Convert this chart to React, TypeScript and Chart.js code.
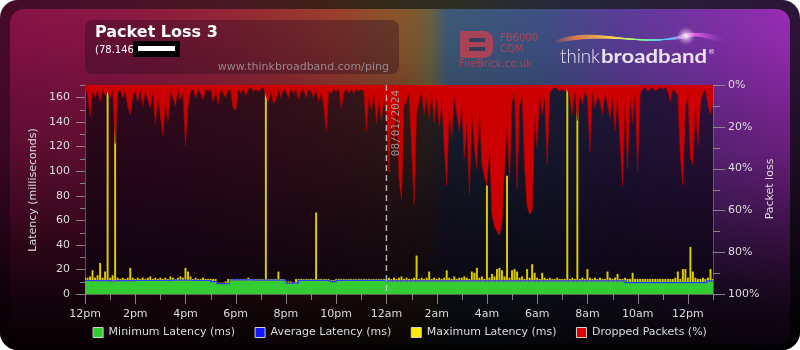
import React, { useEffect, useRef } from 'react';
import { Chart, registerables } from 'chart.js';

Chart.register(...registerables);

// ---- labels ----
const chartTitle = 'Packet Loss 3';
const subtitle = '(78.146';
const siteUrl = 'www.thinkbroadband.com/ping';
const dateLabel = '08/01/2024';
const midnightHour = 12;
const totalHours = 25;
const xTickLabels = ['12pm', '2pm', '4pm', '6pm', '8pm', '10pm', '12am', '2am', '4am', '6am', '8am', '10am', '12pm'];
const seriesNames = ['Minimum Latency (ms)', 'Average Latency (ms)', 'Maximum Latency (ms)', 'Dropped Packets (%)'];

// ---- data: dropped packets (%), one value every 6 minutes from 12pm ----
const droppedPackets = [
  2, 4, 15, 3, 6, 2, 8, 2, 5, 3,
  6, 2, 28, 4, 2, 6, 3, 10, 14, 5,
  3, 8, 2, 10, 3, 7, 11, 3, 19, 6,
  15, 24, 8, 18, 3, 6, 10, 2, 7, 4,
  29, 10, 3, 2, 6, 2, 4, 7, 2, 3,
  2, 8, 3, 9, 2, 4, 6, 2, 3, 11,
  12, 2, 4, 2, 5, 2, 1, 3, 2, 3,
  2, 1, 5, 8, 3, 9, 7, 2, 6, 2,
  3, 6, 2, 4, 2, 7, 3, 2, 6, 2,
  3, 6, 2, 8, 4, 9, 22, 3, 4, 2,
  3, 2, 11, 4, 2, 4, 2, 4, 2, 3,
  2, 3, 22, 6, 12, 4, 18, 8, 17, 6,
  15, 42, 12, 30, 6, 45, 55, 10, 8, 4,
  30, 57, 14, 8, 3, 14, 6, 16, 4, 18,
  6, 20, 8, 30, 48, 12, 25, 6, 14, 22,
  10, 35, 18, 52, 14, 30, 40, 12, 38, 44,
  48, 30, 62, 68, 70, 72, 66, 40, 20, 45,
  8, 4, 50, 10, 5, 40, 58, 62, 60, 15,
  30, 5, 14, 6, 38, 4, 2, 1, 2, 3,
  2, 3, 2, 6, 14, 3, 17, 5, 9, 3,
  6, 32, 3, 11, 5, 8, 14, 4, 9, 16,
  6, 22, 5, 28, 48, 8, 40, 6, 18, 4,
  41, 4, 2, 1, 3, 2, 1, 3, 2, 1,
  2, 1, 3, 8, 2, 3, 5, 35, 48, 10,
  6, 35, 38, 10, 29, 8, 4, 2, 10, 14,
  8,
];

// ---- data: maximum latency (ms), one value every 6 minutes ----
const maxLatency = [
  13, 13, 14, 19, 13, 15, 25, 13, 18, 170,
  13, 15, 170, 13, 12, 13, 12, 13, 21, 13,
  12, 13, 12, 13, 12, 13, 14, 12, 13, 12,
  13, 12, 13, 12, 14, 13, 12, 13, 14, 13,
  21, 18, 14, 12, 13, 12, 12, 13, 12, 12,
  12, 12, 12, 9, 9, 9, 10, 12, 12, 12,
  12, 12, 12, 12, 12, 13, 12, 12, 12, 12,
  12, 12, 170, 12, 12, 12, 12, 18, 12, 12,
  10, 10, 10, 9, 12, 12, 12, 12, 12, 12,
  12, 12, 66, 12, 12, 12, 12, 12, 11, 11,
  12, 12, 12, 12, 12, 12, 12, 12, 12, 12,
  12, 12, 12, 12, 12, 12, 12, 12, 12, 12,
  12, 13, 12, 13, 12, 13, 14, 12, 13, 12,
  12, 13, 31, 12, 13, 12, 13, 18, 12, 13,
  12, 13, 12, 13, 19, 13, 12, 14, 12, 13,
  13, 14, 13, 12, 18, 17, 21, 13, 14, 12,
  88, 13, 16, 14, 20, 21, 19, 14, 96, 13,
  19, 20, 18, 13, 14, 12, 20, 13, 24, 17,
  13, 12, 17, 13, 12, 13, 12, 12, 13, 12,
  12, 12, 170, 12, 13, 12, 170, 12, 13, 12,
  20, 13, 12, 13, 12, 13, 12, 12, 18, 13,
  12, 13, 16, 12, 12, 13, 12, 12, 17, 12,
  12, 12, 12, 12, 12, 12, 12, 12, 12, 12,
  12, 12, 12, 12, 12, 13, 18, 12, 20, 20,
  13, 38, 18, 13, 12, 12, 13, 12, 13, 20,
  12,
];

// ---- data: minimum latency (ms), one value every 15 minutes ----
const minLatency = [
  10.5, 10.4, 10.3, 10.3,
  10.2, 10.3, 10.4, 10.4,
  10.5, 10.5, 10.5, 10.5,
  10.5, 10.6, 10.8, 10.8,
  10.7, 10.6, 10.5, 10.5,
  9.5, 8.0, 8.0, 11.0,
  11.0, 11.0, 11.0, 10.8,
  10.8, 10.8, 10.8, 10.8,
  8.3, 8.3, 10.6, 10.6,
  10.6, 10.6, 10.6, 9.5,
  10.6, 10.6, 10.6, 10.6,
  10.6, 10.6, 10.6, 10.6,
  10.2, 10.2, 10.2, 10.2,
  10.2, 10.2, 10.2, 10.2,
  10.2, 10.2, 10.2, 10.2,
  10.2, 10.2, 10.2, 10.2,
  10.2, 10.2, 10.2, 10.2,
  10.2, 10.2, 10.2, 10.2,
  10.2, 10.2, 10.2, 10.2,
  10.2, 10.2, 10.2, 10.2,
  10.2, 10.2, 10.2, 10.2,
  10.2, 10.2, 10.2, 10.2,
  10.2, 10.2, 10.2, 10.2,
  10.2, 10.2, 10.2, 10.2,
  10.2, 10.2, 10.2, 10.2,
  10.2,
];

// ---- data: average latency (ms), one value every 15 minutes ----
const avgLatency = [
  11.0, 10.9, 10.8, 10.8,
  10.7, 10.8, 10.9, 10.9,
  11.0, 11.0, 11.0, 11.0,
  11.0, 11.1, 11.3, 11.3,
  11.2, 11.1, 11.0, 11.0,
  10.0, 8.5, 8.5, 11.5,
  11.5, 11.5, 11.5, 11.3,
  11.3, 11.3, 11.3, 11.3,
  8.8, 8.8, 11.1, 11.1,
  11.1, 11.1, 11.1, 10.0,
  11.1, 11.1, 11.1, 11.1,
  11.1, 11.1, 11.1, 11.1,
  10.7, 10.7, 10.7, 10.7,
  10.7, 10.7, 10.7, 10.7,
  10.7, 10.7, 10.7, 10.7,
  10.7, 10.7, 10.7, 10.7,
  10.7, 10.7, 10.7, 10.7,
  10.7, 10.7, 10.7, 10.7,
  10.7, 10.7, 10.7, 10.7,
  10.7, 10.7, 10.7, 10.7,
  10.7, 10.7, 10.7, 10.7,
  10.7, 10.7, 9.3, 9.3,
  9.3, 9.3, 9.3, 9.3,
  9.3, 9.3, 9.3, 9.3,
  9.3, 9.3, 9.3, 10.7,
  10.7,
];

const FONT = "'DejaVu Sans', sans-serif";
const TEXT = '#dcdcdc';
const TICK = 'rgba(150,150,150,0.85)';

const toPoints = (values: number[], stepHours: number) =>
  values.map((v, i) => ({ x: i * stepHours, y: v }));

const backgroundPlugin = {
  id: 'pageBackground',
  beforeDraw(chart: any) {
    const ctx: CanvasRenderingContext2D = chart.ctx;
    const W = chart.width;
    const H = chart.height;
    const area = chart.chartArea;
    ctx.save();
    // outer frame
    ctx.beginPath();
    ctx.roundRect(0, 0, W, H, 18);
    const frame = ctx.createLinearGradient(0, 0, W, 0);
    frame.addColorStop(0, '#3a0a22');
    frame.addColorStop(0.4, '#3a2212');
    frame.addColorStop(0.55, '#2e2e20');
    frame.addColorStop(0.7, '#242838');
    frame.addColorStop(1, '#2c1436');
    ctx.fillStyle = frame;
    ctx.fill();
    ctx.clip();
    // inner panel
    ctx.beginPath();
    ctx.roundRect(10, 9, 780, 336, 14);
    const panel = ctx.createLinearGradient(10, 0, 790, 0);
    panel.addColorStop(0, '#8a1446');
    panel.addColorStop(0.14, '#921c40');
    panel.addColorStop(0.27, '#9c2e30');
    panel.addColorStop(0.41, '#a0442a');
    panel.addColorStop(0.51, '#86582e');
    panel.addColorStop(0.54, '#6a6040');
    panel.addColorStop(0.56, '#3e5a78');
    panel.addColorStop(0.68, '#3e5284');
    panel.addColorStop(0.78, '#5a3e98');
    panel.addColorStop(0.91, '#8030a8');
    panel.addColorStop(1, '#9a2cb4');
    ctx.fillStyle = panel;
    ctx.fill();
    // magenta tint lower-left
    const tint = ctx.createRadialGradient(140, 250, 0, 140, 250, 340);
    tint.addColorStop(0, 'rgba(125,12,75,0.6)');
    tint.addColorStop(0.6, 'rgba(125,12,75,0.35)');
    tint.addColorStop(1, 'rgba(125,12,75,0)');
    ctx.fillStyle = tint;
    ctx.fillRect(0, 0, W, H);
    // vertical fade to black
    const shade = ctx.createLinearGradient(0, 0, 0, H);
    shade.addColorStop(0, 'rgba(0,0,0,0)');
    shade.addColorStop(0.12, 'rgba(0,0,0,0.05)');
    shade.addColorStop(0.43, 'rgba(0,0,0,0.32)');
    shade.addColorStop(0.71, 'rgba(0,0,0,0.68)');
    shade.addColorStop(0.86, 'rgba(0,0,0,0.86)');
    shade.addColorStop(1, 'rgba(0,0,0,0.95)');
    ctx.fillStyle = shade;
    ctx.fillRect(0, 0, W, H);
    // plot overlay
    ctx.fillStyle = 'rgba(8,4,14,0.62)';
    ctx.fillRect(area.left, area.top, area.right - area.left, area.bottom - area.top);

    // header box
    ctx.beginPath();
    ctx.roundRect(85, 20, 314, 54, 8);
    ctx.fillStyle = 'rgba(35,8,28,0.35)';
    ctx.fill();
    ctx.fillStyle = '#ffffff';
    ctx.font = `bold 16px ${FONT}`;
    ctx.textBaseline = 'alphabetic';
    ctx.textAlign = 'left';
    ctx.fillText(chartTitle, 95, 37);
    ctx.font = `10px ${FONT}`;
    ctx.fillText(subtitle, 95, 53);
    ctx.fillStyle = '#000000';
    ctx.fillRect(133, 41, 47, 16);
    ctx.fillStyle = '#ffffff';
    ctx.fillRect(138, 46, 37, 5);
    ctx.fillStyle = 'rgba(165,150,160,0.85)';
    ctx.font = `11px ${FONT}`;
    ctx.textAlign = 'right';
    ctx.fillText(siteUrl, 389, 70);

    // FireBrick logo
    ctx.fillStyle = 'rgba(196,64,84,0.8)';
    ctx.beginPath();
    ctx.roundRect(460, 31, 33, 27, [3, 9, 9, 3]);
    ctx.fill();
    ctx.fillStyle = 'rgba(45,62,90,0.95)';
    ctx.fillRect(469, 38, 16, 4);
    ctx.fillRect(469, 47, 16, 4);
    ctx.fillStyle = 'rgba(196,64,84,0.85)';
    ctx.textAlign = 'left';
    ctx.font = `10px ${FONT}`;
    ctx.fillText('FB6000', 500, 41);
    ctx.fillText('CQM', 500, 52);
    ctx.fillText('FireBrick.co.uk', 459, 67);

    // thinkbroadband wave
    const g = ctx.createLinearGradient(555, 0, 725, 0);
    g.addColorStop(0, 'rgba(255,120,60,0)');
    g.addColorStop(0.12, 'rgba(255,140,60,0.75)');
    g.addColorStop(0.35, 'rgba(255,220,80,0.8)');
    g.addColorStop(0.5, 'rgba(130,255,140,0.7)');
    g.addColorStop(0.65, 'rgba(80,200,255,0.7)');
    g.addColorStop(0.8, 'rgba(255,110,230,0.8)');
    g.addColorStop(1, 'rgba(180,80,255,0)');
    ctx.strokeStyle = g;
    ctx.lineWidth = 1;
    for (let k = 0; k < 6; k++) {
      const o = k * 1.6 - 4;
      ctx.beginPath();
      ctx.moveTo(555, 42 + o * 0.3);
      ctx.bezierCurveTo(600, 28 + o, 640, 48 - o, 685, 36 + o * 0.5);
      ctx.bezierCurveTo(700, 32, 712, 38 + o, 725, 40 + o * 0.4);
      ctx.stroke();
    }
    const glow = ctx.createRadialGradient(686, 36, 0, 686, 36, 9);
    glow.addColorStop(0, 'rgba(255,255,255,0.9)');
    glow.addColorStop(1, 'rgba(255,180,255,0)');
    ctx.fillStyle = glow;
    ctx.fillRect(676, 26, 20, 20);

    // thinkbroadband text
    const fit = (text: string, x: number, y: number, w: number) => {
      const m = ctx.measureText(text).width;
      ctx.save();
      ctx.translate(x, y);
      ctx.scale(w / m, 1);
      ctx.fillText(text, 0, 0);
      ctx.restore();
    };
    ctx.fillStyle = '#ece2f2';
    ctx.font = `300 19px Lato, ${FONT}`;
    fit('think', 560, 63, 40);
    ctx.font = `bold 19px Lato, ${FONT}`;
    fit('broadband', 601, 63, 106);
    ctx.font = `7px ${FONT}`;
    ctx.fillText('®', 708, 54);
    ctx.restore();
  },
  afterDatasetsDraw(chart: any) {
    const ctx: CanvasRenderingContext2D = chart.ctx;
    const area = chart.chartArea;
    const px = chart.scales.x.getPixelForValue(midnightHour);
    ctx.save();
    ctx.strokeStyle = 'rgba(200,200,200,0.85)';
    ctx.lineWidth = 1.5;
    ctx.setLineDash([6, 4]);
    ctx.beginPath();
    ctx.moveTo(px, area.top);
    ctx.lineTo(px, area.bottom);
    ctx.stroke();
    ctx.setLineDash([]);
    ctx.translate(px + 9.5, area.top + 5);
    ctx.rotate(-Math.PI / 2);
    ctx.fillStyle = 'rgba(175,175,175,0.8)';
    ctx.font = "11px 'DejaVu Sans Mono', monospace";
    ctx.textAlign = 'right';
    ctx.textBaseline = 'middle';
    ctx.fillText(dateLabel, 0, 0);
    ctx.restore();
  },
  afterDraw(chart: any) {
    const ctx: CanvasRenderingContext2D = chart.ctx;
    const area = chart.chartArea;
    const { x, y, y1 } = chart.scales;
    ctx.save();
    ctx.strokeStyle = TICK;
    ctx.lineWidth = 1;
    ctx.beginPath();
    for (const t of y.ticks) {
      const p = Math.round(y.getPixelForValue(t.value)) + 0.5;
      const len = t.value % 20 === 0 ? 9 : 5;
      ctx.moveTo(area.left - len, p);
      ctx.lineTo(area.left, p);
    }
    for (const t of y1.ticks) {
      const p = Math.round(y1.getPixelForValue(t.value)) + 0.5;
      const len = t.value % 20 === 0 ? 12 : 7;
      ctx.moveTo(area.right, p);
      ctx.lineTo(area.right + len, p);
    }
    for (const t of x.ticks) {
      const p = Math.round(x.getPixelForValue(t.value)) + 0.5;
      const len = t.value % 2 === 0 ? 10 : 6;
      ctx.moveTo(p, area.bottom);
      ctx.lineTo(p, area.bottom + len);
    }
    ctx.stroke();
    ctx.fillStyle = TEXT;
    ctx.font = `11px ${FONT}`;
    ctx.textAlign = 'center';
    ctx.textBaseline = 'middle';
    // x tick labels (every 2 hours)
    for (const t of x.ticks) {
      if (t.value % 2 !== 0) continue;
      const label = xTickLabels[t.value / 2];
      if (label) ctx.fillText(label, x.getPixelForValue(t.value), area.bottom + 20);
    }
    // axis titles
    ctx.save();
    ctx.translate(33, 190);
    ctx.rotate(-Math.PI / 2);
    ctx.fillText('Latency (milliseconds)', 0, 0);
    ctx.restore();
    ctx.save();
    ctx.translate(770, 189);
    ctx.rotate(-Math.PI / 2);
    ctx.fillText('Packet loss', 0, 0);
    ctx.restore();
    ctx.restore();
  },
};

export default function App() {
  const canvasRef = useRef<HTMLCanvasElement | null>(null);

  useEffect(() => {
    const canvas = canvasRef.current;
    if (!canvas) return;
    Chart.defaults.font.family = FONT;
    Chart.defaults.font.size = 11;
    const legendColors = ['#33cc33', '#1414ff', '#ffee00', '#dd0000'];

    const chart = new Chart(canvas, {
      type: 'line',
      data: {
        datasets: [
          {
            label: seriesNames[0],
            data: toPoints(minLatency, 0.25),
            yAxisID: 'y',
            backgroundColor: '#33cc33',
            borderColor: '#33cc33',
            borderWidth: 0,
            fill: 'origin',
            stepped: true,
            pointRadius: 0,
            order: 2,
          },
          {
            label: seriesNames[1],
            data: toPoints(avgLatency, 0.25),
            yAxisID: 'y',
            backgroundColor: '#1414ff',
            borderColor: '#2b3cff',
            borderWidth: 1.2,
            fill: false,
            stepped: true,
            pointRadius: 0,
            order: 1,
          },
          {
            type: 'bar',
            label: seriesNames[2],
            data: toPoints(maxLatency, 0.1),
            yAxisID: 'y',
            backgroundColor: '#dccc00',
            borderWidth: 0,
            barThickness: 1.3,
            grouped: false,
            order: 3,
          },
          {
            label: seriesNames[3],
            data: toPoints(droppedPackets, 0.1),
            yAxisID: 'y1',
            backgroundColor: '#cc0000',
            borderColor: 'rgba(165,0,0,0.8)',
            borderWidth: 0.8,
            fill: 'origin',
            pointRadius: 0,
            order: 0,
          },
        ],
      },
      options: {
        responsive: false,
        animation: false,
        events: [],
        layout: { padding: { top: 85, left: 0, right: 0, bottom: 2 } },
        scales: {
          x: {
            type: 'linear',
            min: 0,
            max: totalHours,
            offset: false,
            afterFit: (s: any) => { s.height = 13; },
            ticks: { stepSize: 1, autoSkip: false, display: false },
            grid: { display: false, drawTicks: false, offset: false },
            border: { display: true, color: 'rgba(130,130,130,0.7)' },
          },
          y: {
            type: 'linear',
            position: 'left',
            min: 0,
            max: 170,
            afterFit: (s: any) => { s.width = 85; },
            ticks: {
              stepSize: 10,
              autoSkip: false,
              color: TEXT,
              padding: 15,
              font: { size: 11, family: FONT },
              callback: (v: any) => (v % 20 === 0 ? String(v) : ''),
            },
            grid: { display: false, drawTicks: false },
            border: { display: true, color: 'rgba(130,130,130,0.6)' },
          },
          y1: {
            type: 'linear',
            position: 'right',
            min: 0,
            max: 100,
            reverse: true,
            afterFit: (s: any) => { s.width = 87; },
            ticks: {
              stepSize: 10,
              autoSkip: false,
              color: TEXT,
              padding: 15,
              font: { size: 11, family: FONT },
              callback: (v: any) => (v % 20 === 0 ? `${v}%` : ''),
            },
            grid: { display: false, drawTicks: false },
            border: { display: true, color: 'rgba(130,120,150,0.6)' },
          },
        },
        plugins: {
          title: { display: false },
          tooltip: { enabled: false },
          legend: {
            display: true,
            position: 'bottom',
            labels: {
              color: TEXT,
              font: { size: 11, family: FONT },
              boxWidth: 10,
              boxHeight: 10,
              padding: 20,
              sort: (a: any, b: any) => a.datasetIndex - b.datasetIndex,
              generateLabels: (c: any) =>
                (Chart.defaults.plugins.legend.labels.generateLabels as any)(c).map((l: any) => ({
                  ...l,
                  fillStyle: legendColors[l.datasetIndex],
                  strokeStyle: '#d0d0d0',
                  lineWidth: 1,
                })),
            },
          },
        },
      },
      plugins: [backgroundPlugin],
    } as any);

    return () => chart.destroy();
  }, []);

  return (
    <div style={{ position: 'fixed', left: 0, top: 0, width: 800, height: 350 }}>
      <canvas ref={canvasRef} width={800} height={350} style={{ display: 'block' }} />
    </div>
  );
}
